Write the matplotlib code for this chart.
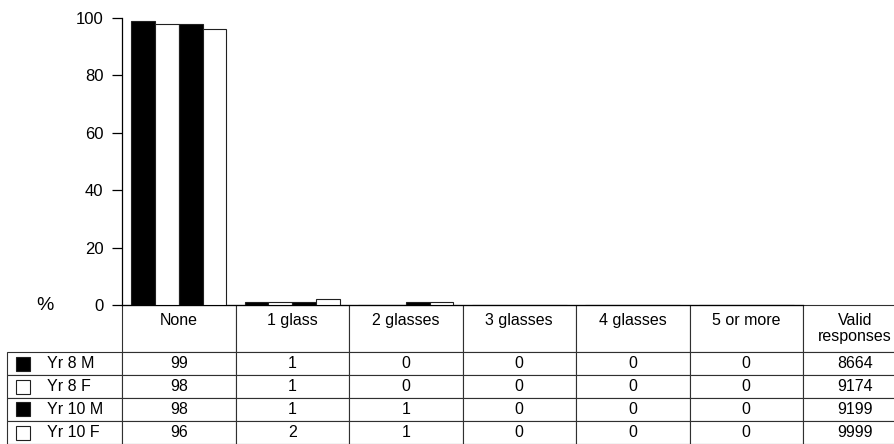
import matplotlib
matplotlib.use("Agg")
import matplotlib.pyplot as plt
from matplotlib.patches import Rectangle
from matplotlib.table import Table

plt.rcParams["font.family"] = ["Liberation Sans", "DejaVu Sans"]

categories = ["None", "1 glass", "2 glasses", "3 glasses", "4 glasses", "5 or more"]
groups = ["Yr 8 M", "Yr 8 F", "Yr 10 M", "Yr 10 F"]
group_colors = ["black", "white", "black", "white"]

yr8_m = [99, 1, 0, 0, 0, 0]
yr8_f = [98, 1, 0, 0, 0, 0]
yr10_m = [98, 1, 1, 0, 0, 0]
yr10_f = [96, 2, 1, 0, 0, 0]
valid_responses = [8664, 9174, 9199, 9999]

series = [yr8_m, yr8_f, yr10_m, yr10_f]

# figure is 894x444 px; layout worked out in pixels
W, H = 894, 444
ax_left, ax_right, ax_top, ax_bottom = 122, 803, 18, 305

fig = plt.figure(figsize=(W / 100, H / 100), dpi=100)
ax = fig.add_axes([ax_left / W, 1 - ax_bottom / H,
                   (ax_right - ax_left) / W, (ax_bottom - ax_top) / H])

n_cat = len(categories)
bar_w = 0.21
for i, (vals, col) in enumerate(zip(series, group_colors)):
    xs = [c - 0.5 + 0.08 + bar_w * (i + 0.5) for c in range(n_cat)]
    ax.bar(xs, vals, width=bar_w, color=col, edgecolor="#202020", linewidth=0.8, zorder=3)

ax.set_xlim(-0.5, n_cat - 0.5)
ax.set_ylim(0, 100)
ax.set_yticks(range(0, 101, 20))
ax.set_xticks([])
for s in ["top", "right"]:
    ax.spines[s].set_visible(False)
for s in ["left", "bottom"]:
    ax.spines[s].set_linewidth(0.9)
ax.tick_params(axis="y", length=7.5, width=0.9, pad=6, labelsize=12)

ax.text((45 - ax_left) / (ax_right - ax_left), 0, "%", transform=ax.transAxes,
        ha="center", va="center", fontsize=14)


def px_to_ax(px, py):
    return ((px - ax_left) / (ax_right - ax_left), (ax_bottom - py) / (ax_bottom - ax_top))


# table below the bars
tbl_left, tbl_right, tbl_bottom = 7, 907, 443.5
x0, y0 = px_to_ax(tbl_left, tbl_bottom)
x1, y1 = px_to_ax(tbl_right, ax_bottom)
tbl = Table(ax, bbox=[x0, y0, x1 - x0, y1 - y0])
tbl.auto_set_font_size(False)

label_w = ax_left - tbl_left
cat_w = (ax_right - ax_left) / n_cat
valid_w = tbl_right - ax_right
head_h, row_h = 47, 23
line_col = "#303030"

headers = [c + "\n " for c in categories] + ["Valid\nresponses"]
cell = tbl.add_cell(0, 0, label_w, head_h, text="")
cell.visible_edges = ""
for j, h in enumerate(headers):
    w = valid_w if j == n_cat else cat_w
    tbl.add_cell(0, j + 1, w, head_h, text=h, loc="center")

for r, g in enumerate(groups):
    c = tbl.add_cell(r + 1, 0, label_w, row_h, text=g, loc="left")
    c.PAD = 0.35
    for j in range(n_cat):
        tbl.add_cell(r + 1, j + 1, cat_w, row_h, text=str(series[r][j]), loc="center")
    tbl.add_cell(r + 1, n_cat + 1, valid_w, row_h, text=str(valid_responses[r]), loc="center")

for key, c in tbl.get_celld().items():
    c.set_edgecolor(line_col)
    c.set_linewidth(0.8)
    c.get_text().set_fontsize(11.5)
    c.get_text().set_linespacing(1.1)
tbl.set_clip_on(False)
ax.add_table(tbl)

# legend squares inside the row label cells
sq = 14
for r, col in enumerate(group_colors):
    cy = ax_bottom + head_h + row_h * (r + 0.5)
    sx, sy = px_to_ax(16, cy + sq / 2)
    sx2, sy2 = px_to_ax(16 + sq, cy - sq / 2)
    ax.add_patch(Rectangle((sx, sy), sx2 - sx, sy2 - sy, transform=ax.transAxes,
                           facecolor=col, edgecolor="#202020", linewidth=0.8, clip_on=False))

fig.savefig("out.png", dpi=100)
